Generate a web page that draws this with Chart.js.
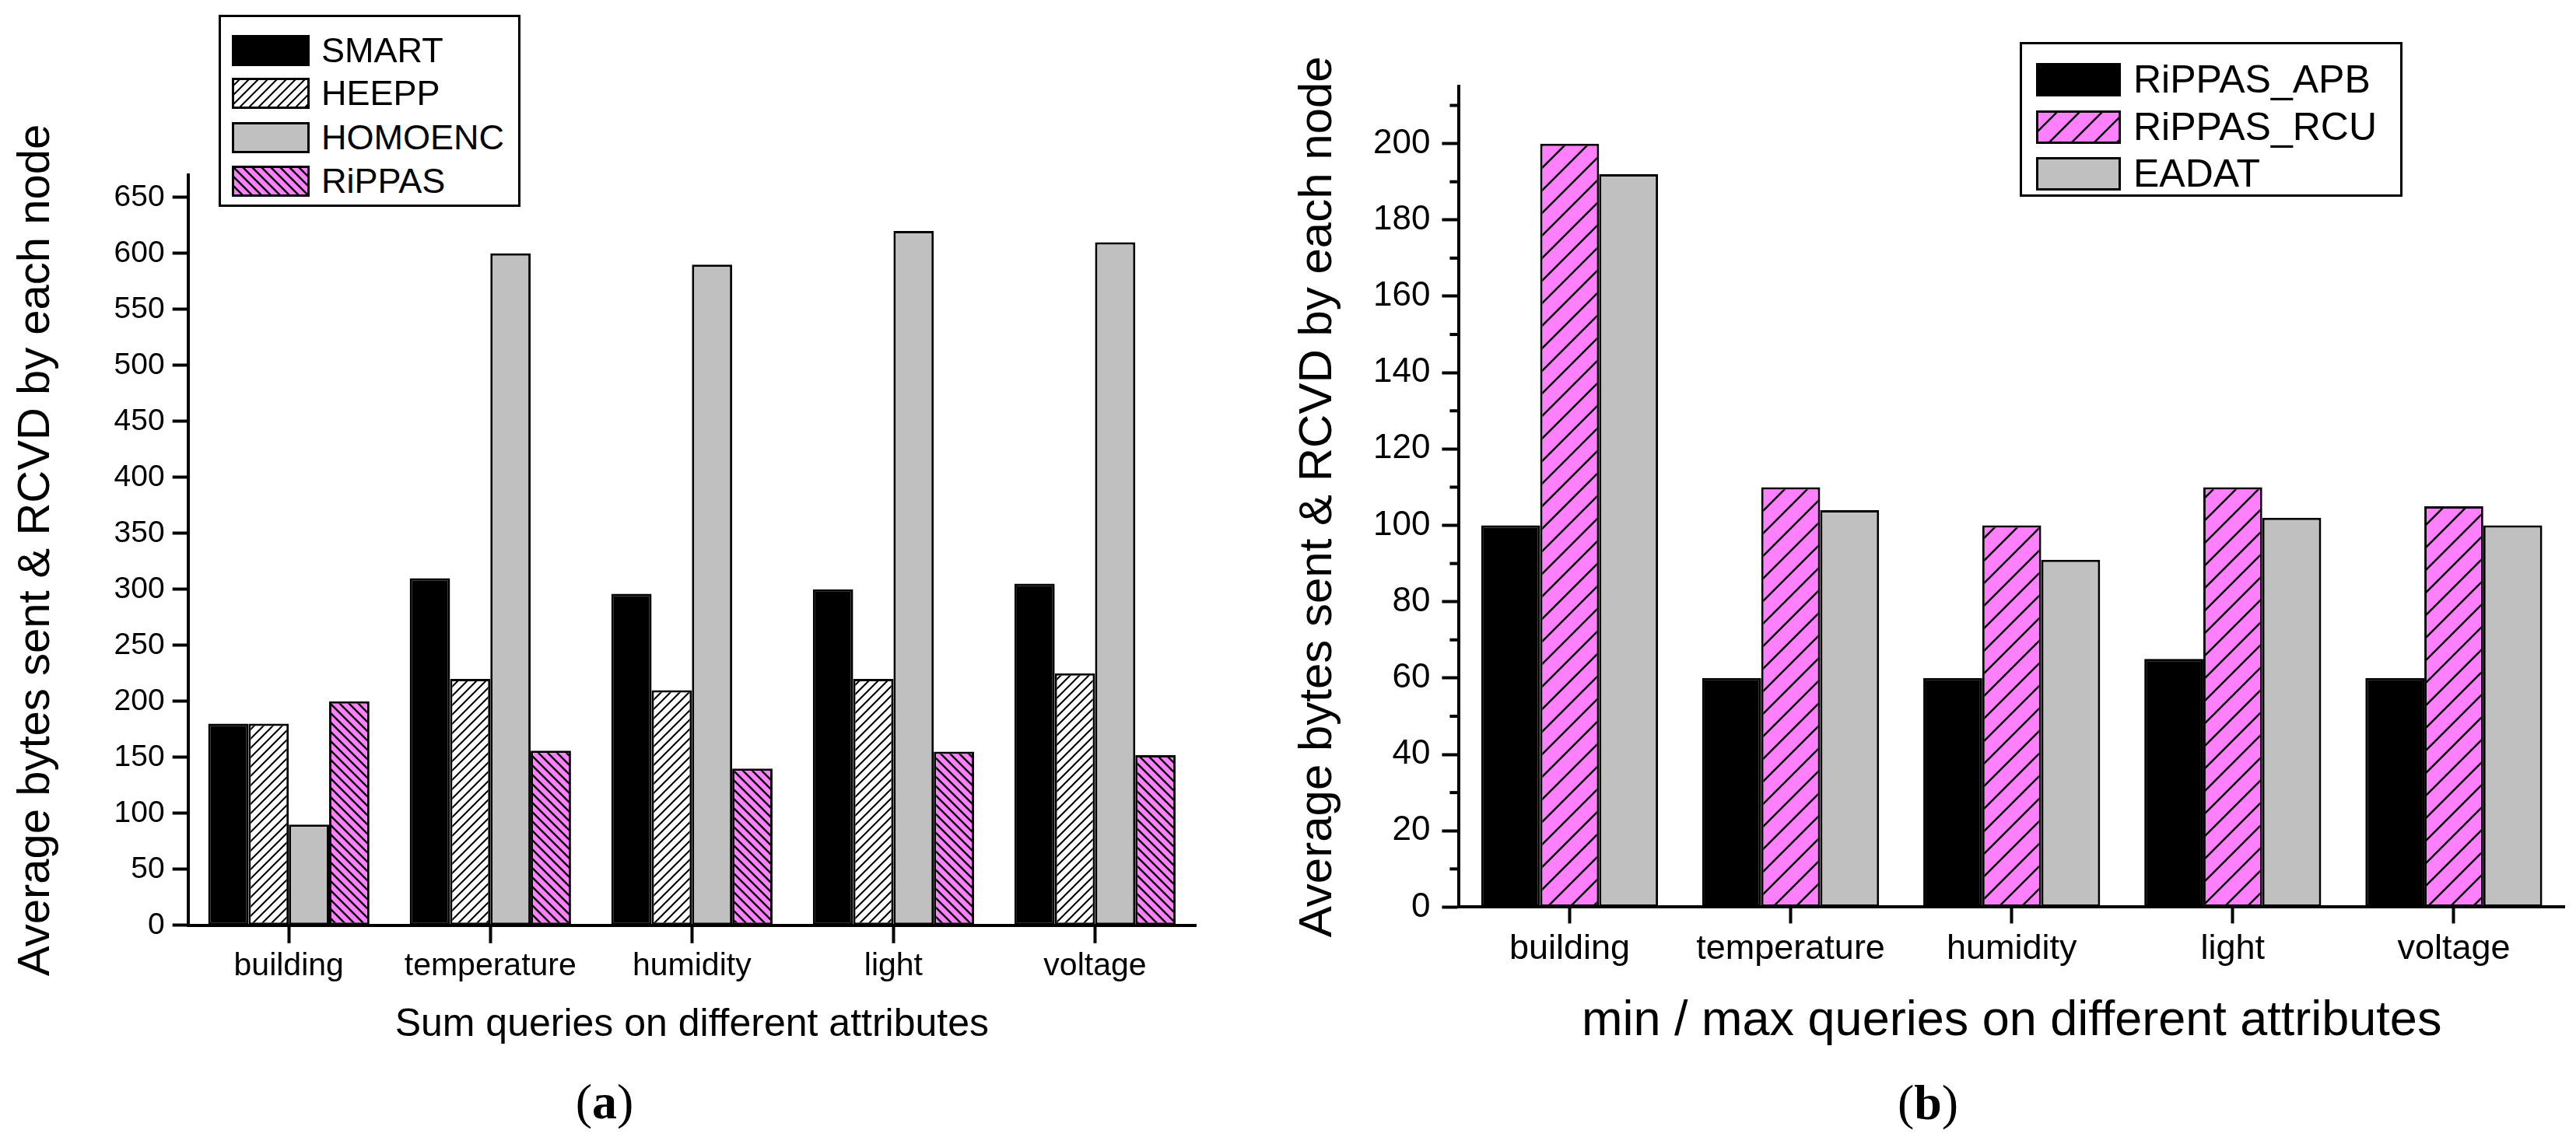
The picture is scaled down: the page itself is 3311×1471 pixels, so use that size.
<!DOCTYPE html>
<html>
<head>
<meta charset="utf-8">
<script src="https://cdn.jsdelivr.net/npm/chart.js@4.4.1/dist/chart.umd.min.js"></script>
<style>
  body { margin: 0; background: #fff; }
  #wrap { position: relative; width: 3311px; height: 1471px; font-family: "Liberation Sans", Arial, sans-serif; }
  .box { position: absolute; }
  .legend { position: absolute; border: 3px solid #000; background: #fff; box-sizing: border-box; }
  .row { position: absolute; display: flex; align-items: center; }
  .row canvas { display: block; }
  .row span { color: #000; white-space: nowrap; }
  .cap { position: absolute; font-family: "Liberation Serif", "DejaVu Serif", serif; font-size: 64px; transform: translate(-50%, -50%); }
</style>
</head>
<body>
<div id="wrap">
  <div class="box" style="left:0;top:0;width:1580px;height:1390px"><canvas id="sumChart"></canvas></div>
  <div class="box" style="left:1560px;top:0;width:1751px;height:1390px"><canvas id="minMaxChart"></canvas></div>
  <div class="legend" id="legA" style="left:281px;top:19px;width:388px;height:247px"></div>
  <div class="legend" id="legB" style="left:2596px;top:54px;width:492px;height:199px"></div>
  <div class="cap" style="left:777px;top:1417px">(<b>a</b>)</div>
  <div class="cap" style="left:2478px;top:1418px">(<b>b</b>)</div>
</div>
<script>
// categories and values
const categories = ['building', 'temperature', 'humidity', 'light', 'voltage'];

const smart   = [180, 310, 296, 300, 305];
const heepp   = [180, 220, 210, 220, 225];
const homoenc = [90, 600, 590, 620, 610];
const rippas  = [200, 156, 140, 155, 152];

const rippasApb = [100, 60, 60, 65, 60];
const rippasRcu = [200, 110, 100, 110, 105];
const eadat     = [192, 104, 91, 102, 100];

const sumAxis = { max: 670, step: 50 };
const minMaxAxis = { max: 215, step: 20, minor: 10 };

const PINK = '#ff80ff';
const GREY = '#c0c0c0';

Chart.defaults.font.family = '"Liberation Sans", Arial, sans-serif';
Chart.defaults.color = '#000';

function hatch(bg, dir, size, lw) {
    const c = document.createElement('canvas');
    c.width = size; c.height = size;
    const x = c.getContext('2d');
    x.fillStyle = bg;
    x.fillRect(0, 0, size, size);
    x.strokeStyle = '#000';
    x.lineWidth = lw;
    x.beginPath();
    if (dir === '/') {
        x.moveTo(-1, size + 1); x.lineTo(size + 1, -1);
        x.moveTo(-size / 2 - 1, size / 2 + 1); x.lineTo(size / 2 + 1, -size / 2 - 1);
        x.moveTo(size / 2 - 1, size * 1.5 + 1); x.lineTo(size * 1.5 + 1, size / 2 - 1);
    } else {
        x.moveTo(-1, -1); x.lineTo(size + 1, size + 1);
        x.moveTo(-size / 2 - 1, size / 2 - 1); x.lineTo(size / 2 + 1, size * 1.5 + 1);
        x.moveTo(size / 2 - 1, -size / 2 - 1); x.lineTo(size * 1.5 + 1, size / 2 + 1);
    }
    x.stroke();
    return x.createPattern(c, 'repeat');
}

const heeppFill = hatch('#ffffff', '/', 12, 2);
const rippasFill = hatch(PINK, '\\', 12, 2.5);
const rcuFill = hatch(PINK, '/', 29, 2.5);

// short ticks between the labelled ones on the right panel
const minorTicks = {
    id: 'minorTicks',
    afterDraw(chart, args, opts) {
        if (!opts.step) return;
        const s = chart.scales.y;
        const ctx = chart.ctx;
        ctx.save();
        ctx.strokeStyle = '#000';
        ctx.lineWidth = 4;
        for (let v = opts.step; v < s.max; v += opts.step * 2) {
            const y = s.getPixelForValue(v);
            ctx.beginPath();
            ctx.moveTo(s.right - opts.len, y);
            ctx.lineTo(s.right, y);
            ctx.stroke();
        }
        ctx.restore();
    }
};

function bar(label, data, fill) {
    return {
        label: label,
        data: data,
        backgroundColor: fill,
        borderColor: '#000',
        borderWidth: 3,
        borderSkipped: false,
        categoryPercentage: 0.8,
        barPercentage: 1.0
    };
}

function config(datasets, o) {
    return {
        type: 'bar',
        data: { labels: categories, datasets: datasets },
        plugins: [minorTicks],
        options: {
            responsive: true,
            maintainAspectRatio: false,
            animation: false,
            devicePixelRatio: 1,
            layout: { padding: o.padding },
            plugins: {
                legend: { display: false },
                tooltip: { enabled: false },
                minorTicks: o.minor
            },
            scales: {
                x: {
                    grid: { drawOnChartArea: false, offset: false, tickLength: o.xTick, tickWidth: 4, tickColor: '#000' },
                    border: { display: true, color: '#000', width: 4 },
                    ticks: { font: { size: o.xFont }, padding: o.xPad, color: '#000' },
                    title: { display: true, text: o.xTitle, font: { size: o.xTitleFont }, padding: o.xTitlePad, color: '#000' }
                },
                y: {
                    min: 0,
                    max: o.max,
                    grid: { drawOnChartArea: false, tickLength: o.yTick, tickWidth: 4, tickColor: '#000' },
                    border: { display: true, color: '#000', width: 4 },
                    ticks: { stepSize: o.step, includeBounds: false, font: { size: o.yFont }, padding: o.yPad, color: '#000' },
                    title: { display: true, text: 'Average bytes sent & RCVD by each node', font: { size: o.yTitleFont }, padding: o.yTitlePad, color: '#000' }
                }
            }
        }
    };
}

new Chart(document.getElementById('sumChart'), config([
    bar('SMART', smart, '#000000'),
    bar('HEEPP', heepp, heeppFill),
    bar('HOMOENC', homoenc, GREY),
    bar('RiPPAS', rippas, rippasFill)
], {
    padding: { left: 8, top: 225, right: 43, bottom: 38 },
    max: sumAxis.max, step: sumAxis.step, minor: {},
    xTick: 23, xFont: 41, xPad: 5, xTitle: 'Sum queries on different attributes', xTitleFont: 50, xTitlePad: { top: 16, bottom: 4 },
    yTick: 20, yFont: 39, yPad: 10, yTitleFont: 58, yTitlePad: { top: 4, bottom: 55 }
}));

new Chart(document.getElementById('minMaxChart'), config([
    bar('RiPPAS_APB', rippasApb, '#000000'),
    bar('RiPPAS_RCU', rippasRcu, rcuFill),
    bar('EADAT', eadat, GREY)
], {
    padding: { left: 90, top: 111, right: 15, bottom: 35 },
    max: minMaxAxis.max, step: minMaxAxis.step, minor: { step: minMaxAxis.minor, len: 12 },
    xTick: 21, xFont: 45, xPad: 6, xTitle: 'min / max queries on different attributes', xTitleFont: 63, xTitlePad: { top: 22, bottom: 4 },
    yTick: 22, yFont: 44, yPad: 15, yTitleFont: 60, yTitlePad: { top: 8, bottom: 20 }
}));

// legends drawn as html, swatches filled with the same patterns
function legend(id, items, sw, rows, textLeft, fontSize) {
    const box = document.getElementById(id);
    items.forEach((it, i) => {
        const row = document.createElement('div');
        row.className = 'row';
        row.style.left = sw.left + 'px';
        row.style.top = rows[i] + 'px';
        const c = document.createElement('canvas');
        c.width = sw.w; c.height = sw.h;
        const x = c.getContext('2d');
        x.fillStyle = it.fill;
        x.fillRect(0, 0, sw.w, sw.h);
        x.strokeStyle = '#000';
        x.lineWidth = 3;
        x.strokeRect(1.5, 1.5, sw.w - 3, sw.h - 3);
        const t = document.createElement('span');
        t.textContent = it.label;
        t.style.fontSize = fontSize + 'px';
        t.style.marginLeft = (textLeft - sw.left - sw.w) + 'px';
        row.appendChild(c);
        row.appendChild(t);
        box.appendChild(row);
    });
}

legend('legA', [
    { label: 'SMART', fill: '#000000' },
    { label: 'HEEPP', fill: heeppFill },
    { label: 'HOMOENC', fill: GREY },
    { label: 'RiPPAS', fill: rippasFill }
], { left: 14, w: 100, h: 40 }, [17, 72, 129, 185], 129, 45);

legend('legB', [
    { label: 'RiPPAS_APB', fill: '#000000' },
    { label: 'RiPPAS_RCU', fill: rcuFill },
    { label: 'EADAT', fill: GREY }
], { left: 18, w: 109, h: 43 }, [16, 77, 137], 143, 50);
</script>
</body>
</html>
